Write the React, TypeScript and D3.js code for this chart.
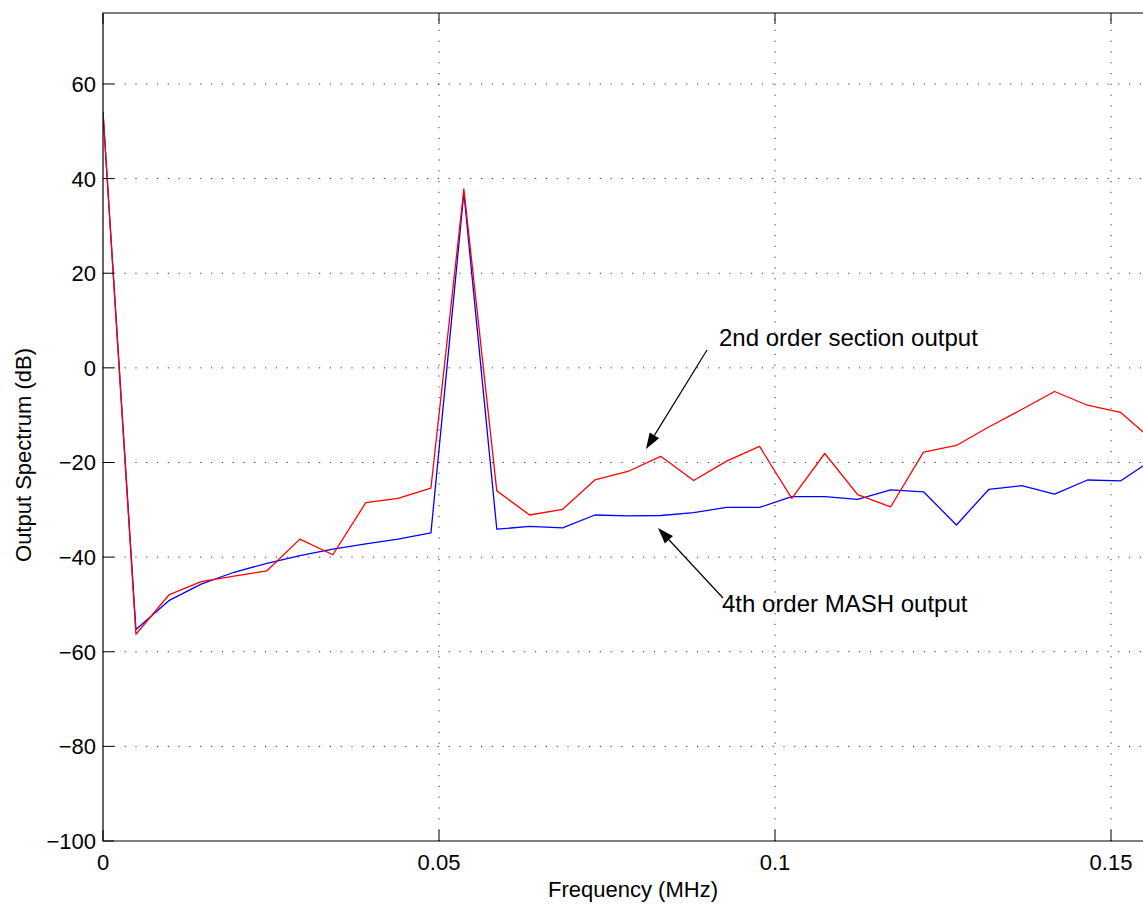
import React from "react"
import * as d3 from "d3"

// frequency bins (MHz)
const freq = [0, 0.0049, 0.0098, 0.0146, 0.0195, 0.0244, 0.0293, 0.0342, 0.0391, 0.0439, 0.0488,
    0.0537, 0.0586, 0.0635, 0.0684, 0.0732, 0.0781, 0.083, 0.0879, 0.0928, 0.0977,
    0.1025, 0.1074, 0.1123, 0.1172, 0.1221, 0.127, 0.1318, 0.1367, 0.1416, 0.1465, 0.1514, 0.1563]

// 2nd order section output (dB)
const secondOrder = [54, -56.3, -48.0, -45.2, -44.0, -42.9, -36.2, -39.5, -28.5, -27.6, -25.4,
    37.8, -26.0, -31.1, -29.9, -23.7, -21.9, -18.7, -23.8, -19.7, -16.6,
    -27.6, -18.1, -26.8, -29.4, -17.8, -16.4, -12.5, -8.8, -5.0, -7.9, -9.4, -15.4]

// 4th order MASH output (dB)
const mash = [54, -55.3, -49.2, -45.7, -43.2, -41.3, -39.7, -38.3, -37.2, -36.2, -34.9,
    37.0, -34.1, -33.5, -33.8, -31.1, -31.3, -31.2, -30.6, -29.5, -29.5,
    -27.2, -27.2, -27.8, -25.8, -26.2, -33.2, -25.7, -24.9, -26.7, -23.7, -23.9, -19.3]

const xTicks = [0, 0.05, 0.1, 0.15]
const yTicks = [-100, -80, -60, -40, -20, 0, 20, 40, 60]

const W = 1143, H = 907
const margin = {top: 13, left: 103, bottom: 66}
const font = "'Liberation Sans', Arial, Helvetica, sans-serif"

const App = () => {
    const x = d3.scaleLinear().domain([0, 0.16]).range([margin.left, margin.left + 0.16 * 6720])
    const y = d3.scaleLinear().domain([-100, 75]).range([H - margin.bottom, margin.top])
    const x0 = x.range()[0], x1 = x.range()[1]
    const y0 = y.range()[0], y1 = y.range()[1]

    const line = d3.line<number>()
        .x((d, i) => x(freq[i]))
        .y(d => y(d))

    const arrow = (fx: number, fy: number, tx: number, ty: number) => {
        const a = Math.atan2(ty - fy, tx - fx)
        const len = 16, half = 5.5
        const bx = tx - len * Math.cos(a), by = ty - len * Math.sin(a)
        const px = -Math.sin(a) * half, py = Math.cos(a) * half
        return (
            <g>
                <line x1={fx} y1={fy} x2={bx} y2={by} stroke="#000" strokeWidth={1.2}/>
                <path d={`M${tx},${ty}L${bx + px},${by + py}L${bx - px},${by - py}Z`} fill="#000"/>
            </g>
        )
    }

    return (
        <div style={{position: "absolute", left: 0, top: 0}}>
            <svg width={W} height={H} style={{display: "block", background: "#fff"}} fontFamily={font}>
                <defs>
                    <clipPath id="plot">
                        <rect x={x0} y={y1} width={x1 - x0} height={y0 - y1}/>
                    </clipPath>
                </defs>

                {/* grid */}
                {yTicks.filter(t => t > -100).map(t => (
                    <line key={"gy" + t} x1={x0} x2={x1} y1={y(t)} y2={y(t)}
                          stroke="#333" strokeWidth={1} strokeDasharray="1.2 9.6"/>
                ))}
                {xTicks.filter(t => t > 0).map(t => (
                    <line key={"gx" + t} x1={x(t)} x2={x(t)} y1={y0} y2={y1}
                          stroke="#333" strokeWidth={1} strokeDasharray="1.2 9.6"/>
                ))}

                {/* data */}
                <g clipPath="url(#plot)" fill="none" strokeWidth={1.3} strokeLinejoin="round">
                    <path d={line(mash) || ""} stroke="#0000ff"/>
                    <path d={line(secondOrder) || ""} stroke="#ff0000"/>
                </g>

                {/* axes box */}
                <path d={`M${x1},${y1}H${x0}V${y0}H${x1}`} fill="none" stroke="#000" strokeWidth={1.2}/>

                {/* ticks */}
                {xTicks.map(t => (
                    <g key={"tx" + t}>
                        <line x1={x(t)} x2={x(t)} y1={y0} y2={y0 - 11} stroke="#000"/>
                        <line x1={x(t)} x2={x(t)} y1={y1} y2={y1 + 11} stroke="#000"/>
                        <text x={x(t)} y={y0 + 29} fontSize={22} textAnchor="middle">{t}</text>
                    </g>
                ))}
                {yTicks.map(t => (
                    <g key={"ty" + t}>
                        <line x1={x0} x2={x0 + 11} y1={y(t)} y2={y(t)} stroke="#000"/>
                        <text x={x0 - 7} y={y(t) + 8} fontSize={22} textAnchor="end">
                            {t < 0 ? "\u2212" + Math.abs(t) : t}
                        </text>
                    </g>
                ))}

                {/* axis labels */}
                <text x={633} y={897} fontSize={22} textAnchor="middle">Frequency (MHz)</text>
                <text transform="translate(31,455) rotate(-90)" fontSize={22} textAnchor="middle">
                    Output Spectrum (dB)
                </text>

                {/* annotations */}
                <text x={719} y={346} fontSize={24}>2nd order section output</text>
                {arrow(707, 350, 646, 449)}
                <text x={722} y={612} fontSize={24}>4th order MASH output</text>
                {arrow(723, 598, 658, 528)}
            </svg>
        </div>
    )
}

export default App
